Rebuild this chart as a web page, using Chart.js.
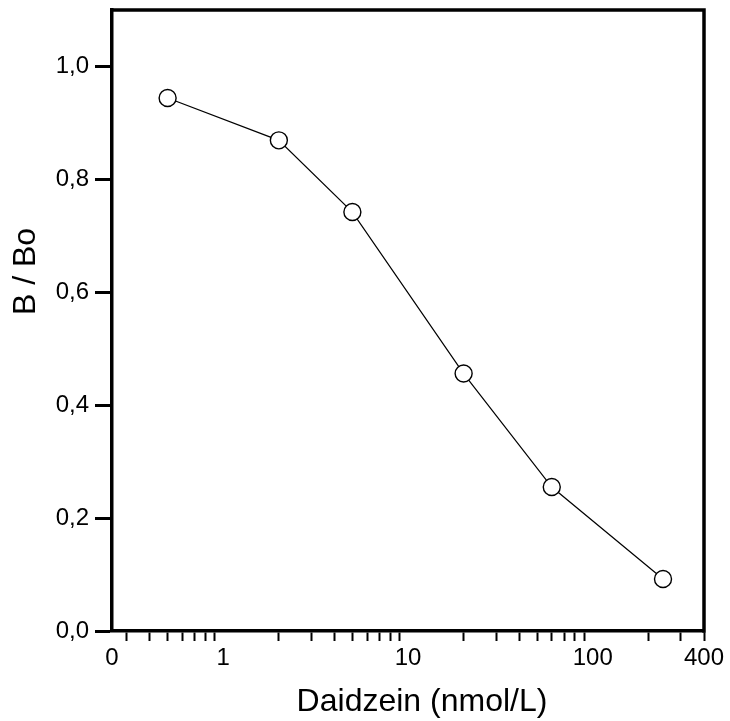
<!DOCTYPE html>
<html><head><meta charset="utf-8">
<script src="https://cdn.jsdelivr.net/npm/chart.js@4.4.1/dist/chart.umd.min.js"></script>
<style>html,body{margin:0;padding:0;background:#fff;}canvas{display:block;}</style>
</head><body>
<canvas id="c" width="730" height="721"></canvas>
<script>
// ---- data ----
const concentrations = [0.5, 2, 5, 20, 60, 240];           // Daidzein (nmol/L)
const ratios = [0.944, 0.869, 0.742, 0.456, 0.255, 0.092];  // B / Bo
const xLabelValues = [0.25, 1, 10, 100, 400];
const xLabelTexts = ['0', '1', '10', '100', '400'];
const xMinorValues = [0.3, 0.4, 0.5, 0.6, 0.7, 0.8, 0.9,
                      2, 3, 4, 5, 6, 7, 8, 9,
                      20, 30, 40, 50, 60, 70, 80, 90,
                      200, 300, 400];
const yTickValues = [0, 0.2, 0.4, 0.6, 0.8, 1.0];
const xTitle = 'Daidzein (nmol/L)';
const yTitle = 'B / Bo';

const FONT = '"Liberation Sans", Arial, sans-serif';

const xTickList = Array.from(new Set([...xLabelValues, ...xMinorValues])).sort((a, b) => a - b);

const framePlugin = {
  id: 'frame',
  afterDraw(chart) {
    const { ctx, chartArea: a } = chart;
    ctx.save();
    ctx.strokeStyle = '#000';
    ctx.lineWidth = 3.5;
    ctx.beginPath();
    ctx.moveTo(a.left - 1.75, a.top);
    ctx.lineTo(a.right, a.top);
    ctx.moveTo(a.right, a.top - 1.75);
    ctx.lineTo(a.right, a.bottom + 1.75);
    ctx.stroke();
    // axis titles
    ctx.fillStyle = '#000';
    ctx.font = '32px ' + FONT;
    ctx.textAlign = 'center';
    ctx.textBaseline = 'middle';
    ctx.fillText(xTitle, (a.left + a.right) / 2 + 14, a.bottom + 71);
    ctx.translate(26.5, (a.top + a.bottom) / 2 - 49);
    ctx.rotate(-Math.PI / 2);
    ctx.fillText(yTitle, 0, 0);
    ctx.restore();
  }
};

new Chart(document.getElementById('c'), {
  type: 'line',
  data: {
    datasets: [{
      data: concentrations.map((x, i) => ({ x: x, y: ratios[i] })),
      borderColor: '#000',
      borderWidth: 1.2,
      backgroundColor: '#fff',
      pointRadius: 8.5,
      pointHoverRadius: 8.5,
      pointBorderWidth: 1.4,
      pointBackgroundColor: '#fff',
      pointBorderColor: '#000',
      tension: 0,
      clip: false
    }]
  },
  options: {
    responsive: false,
    animation: false,
    devicePixelRatio: 1,
    layout: { padding: { left: 0, top: 9.5, right: 26, bottom: 0 } },
    plugins: { legend: { display: false }, tooltip: { enabled: false } },
    scales: {
      x: {
        type: 'logarithmic',
        position: 'bottom',
        min: 0.25,
        max: 400,
        afterBuildTicks: (s) => { s.ticks = xTickList.map(v => ({ value: v })); },
        afterFit: (s) => { s.height = 90; s.paddingLeft = 0; s.paddingRight = 0; },
        border: { display: true, color: '#000', width: 3.5 },
        grid: {
          drawOnChartArea: false,
          drawTicks: true,
          tickLength: 10,
          tickWidth: 2,
          tickColor: (ctx) => (ctx.tick && xMinorValues.includes(ctx.tick.value)) ? '#000' : 'rgba(0,0,0,0)'
        },
        ticks: {
          autoSkip: false,
          maxRotation: 0,
          minRotation: 0,
          padding: 3,
          color: '#000',
          font: { family: FONT, size: 24 },
          callback: (v) => { const i = xLabelValues.indexOf(v); return i >= 0 ? xLabelTexts[i] : ''; }
        }
      },
      y: {
        type: 'linear',
        position: 'left',
        min: 0,
        max: 1.1,
        afterBuildTicks: (s) => { s.ticks = yTickValues.map(v => ({ value: v })); },
        afterFit: (s) => { s.width = 112; s.paddingTop = 0; s.paddingBottom = 0; },
        border: { display: true, color: '#000', width: 3.5 },
        grid: {
          drawOnChartArea: false,
          drawTicks: true,
          tickLength: 17,
          tickWidth: 3,
          tickColor: '#000'
        },
        ticks: {
          padding: 6,
          color: '#000',
          font: { family: FONT, size: 24 },
          callback: (v) => Number(v).toFixed(1).replace('.', ',')
        }
      }
    }
  },
  plugins: [framePlugin]
});
</script>
</body></html>
